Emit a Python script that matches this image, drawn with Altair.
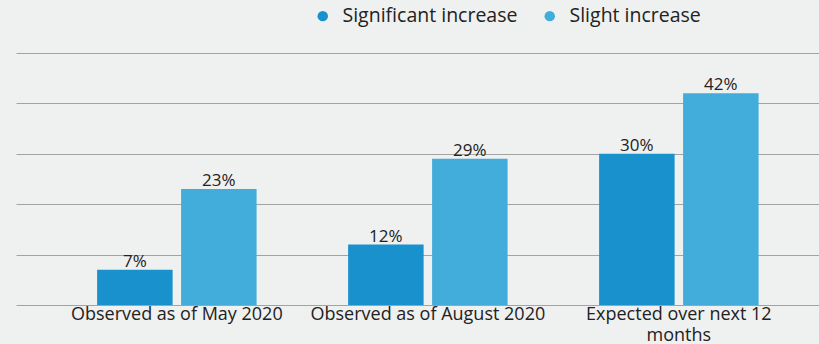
import altair as alt
import pandas as pd

categories = ["Observed as of May 2020", "Observed as of August 2020", "Expected over next 12 months"]
series = ["Significant increase", "Slight increase"]
significant = [7, 12, 30]
slight = [23, 29, 42]

rows = []
for c, a, b in zip(categories, significant, slight):
    rows.append({"cat": c, "series": series[0], "value": a})
    rows.append({"cat": c, "series": series[1], "value": b})
df = pd.DataFrame(rows)

FONT = "Open Sans"
TXT = "#222222"

x = alt.X("cat:N", sort=categories, title=None,
          scale=alt.Scale(paddingInner=0, paddingOuter=0.0996, align=0.707),
          axis=alt.Axis(domain=False, ticks=False, labelAngle=0, labelFont=FONT,
                        labelFontSize=18, labelColor=TXT, labelPadding=0,
                        labelLimit=400, labelLineHeight=21,
                        labelExpr="datum.value == 'Expected over next 12 months' ? ['Expected over next 12', 'months'] : datum.value"))
xo = alt.XOffset("series:N", sort=series,
                 scale=alt.Scale(paddingInner=0.101, paddingOuter=0.545))
y = alt.Y("value:Q", title=None,
          scale=alt.Scale(domain=[0, 50], nice=False),
          axis=alt.Axis(values=[0, 10, 20, 30, 40, 50], labels=False, ticks=False,
                        domain=False, grid=True, gridColor="#a3a3a3", gridWidth=1.2))

color = alt.Color("series:N", sort=series, title=None,
                  scale=alt.Scale(domain=series, range=["#1891cd", "#42acdb"]),
                  legend=alt.Legend(orient="none", direction="horizontal",
                                    legendX=297, legendY=-47,
                                    symbolType="circle", symbolSize=110,
                                    symbolStrokeWidth=0, labelFont=FONT,
                                    labelFontSize=19.5, labelColor=TXT,
                                    labelOffset=10, columnPadding=22,
                                    labelLimit=300))

bars = alt.Chart(df).mark_bar().encode(x=x, xOffset=xo, y=y, color=color)
labels = alt.Chart(df).mark_text(baseline="bottom", dy=1, font=FONT, fontSize=17,
                                 color=TXT).encode(
    x=x, xOffset=xo, y=y, text=alt.Text("label:N")
).transform_calculate(label="datum.value + '%'")

chart = alt.layer(bars, labels).properties(
    width=803, height=252,
    autosize=alt.AutoSizeParams(type="none"),
    padding={"left": 16, "top": 53, "right": 0, "bottom": 39},
    background="#eff0f0",
).configure_view(stroke=None)

chart.save("out.html", embed_options={"renderer": "svg", "actions": False})
